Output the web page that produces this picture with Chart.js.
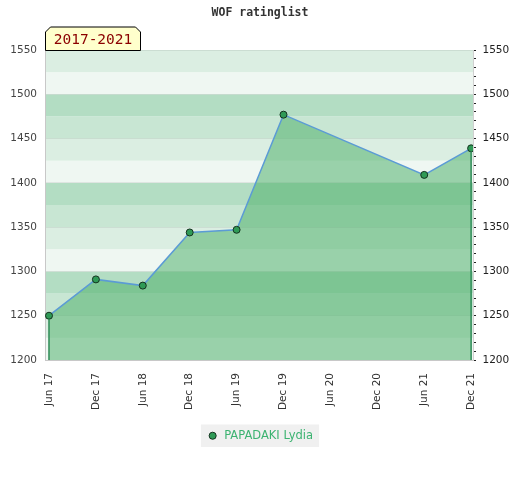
<!DOCTYPE html>
<html>
<head>
<meta charset="utf-8">
<script src="https://cdn.jsdelivr.net/npm/chart.js@4/dist/chart.umd.min.js"></script>
<style>
  html, body { margin: 0; padding: 0; background: #fff; }
  #wrap { width: 520px; height: 480px; }
</style>
</head>
<body>
<div id="wrap"><canvas id="ratingChart" width="520" height="480"></canvas></div>
<script>
const periods = ['Jun 17', 'Dec 17', 'Jun 18', 'Dec 18', 'Jun 19', 'Dec 19', 'Jun 20', 'Dec 20', 'Jun 21', 'Dec 21'];
const ratings = [1250, 1291, 1284, 1344, 1347, 1477, null, null, 1409, 1439];
const playerName = 'PAPADAKI Lydia';
const chartTitle = 'WOF ratinglist';
const rangeLabel = '2017-2021';
const yMin = 1200;
const yMax = 1550;

// background stripes, one shade per 25 points inside each 100 block
const stripeShades = { 0: '#eff7f2', 25: '#dbeee2', 50: '#c8e6d3', 75: '#b3ddc3' };

const backdrop = {
  id: 'backdrop',
  beforeDraw(chart) {
    const { ctx, chartArea: a, scales } = chart;
    const y = scales.y;
    ctx.save();
    for (let v = yMin; v < yMax; v += 25) {
      const top = y.getPixelForValue(v + 25);
      const bottom = y.getPixelForValue(v);
      ctx.fillStyle = stripeShades[((v % 100) + 100) % 100];
      ctx.fillRect(a.left, top, a.right - a.left, bottom - top);
    }
    // legend background
    const box = chart.legend && chart.legend.legendHitBoxes && chart.legend.legendHitBoxes[0];
    if (box) {
      ctx.fillStyle = '#f0f0f0';
      ctx.fillRect(box.left - 6, box.top - 5.5, box.width + 12, box.height + 11);
    }
    ctx.restore();
  },
  afterDatasetsDraw(chart) {
    const { ctx, chartArea: a } = chart;
    const pts = chart.getDatasetMeta(0).data;
    if (!pts.length) return;
    ctx.save();
    ctx.strokeStyle = '#2e8b57';
    ctx.lineWidth = 1.5;
    [pts[0], pts[pts.length - 1]].forEach(p => {
      ctx.beginPath();
      ctx.moveTo(p.x, p.y + 3);
      ctx.lineTo(p.x, a.bottom);
      ctx.stroke();
    });
    ctx.restore();
  },
  afterDraw(chart) {
    const { ctx, chartArea: a } = chart;
    const l = a.left + 0.5, r = a.left + 95.5, t = a.top - 23, b = a.top + 0.5, c = 5;
    ctx.save();
    ctx.beginPath();
    ctx.moveTo(l, b);
    ctx.lineTo(l, t + c);
    ctx.lineTo(l + c, t);
    ctx.lineTo(r - c, t);
    ctx.lineTo(r, t + c);
    ctx.lineTo(r, b);
    ctx.closePath();
    ctx.fillStyle = '#ffffcc';
    ctx.fill();
    ctx.strokeStyle = '#000';
    ctx.lineWidth = 1;
    ctx.stroke();
    ctx.fillStyle = '#8b0000';
    ctx.font = '14.5px "DejaVu Sans Mono", monospace';
    ctx.textAlign = 'center';
    ctx.textBaseline = 'middle';
    ctx.fillText(rangeLabel, (l + r) / 2, (t + b) / 2 + 1);
    ctx.restore();
  }
};

const points = periods
  .map((p, i) => ({ x: i, y: ratings[i] }))
  .filter(d => d.y !== null);

new Chart(document.getElementById('ratingChart'), {
  type: 'line',
  data: {
    datasets: [{
      label: playerName,
      data: points,
      borderColor: '#5b9bd5',
      borderWidth: 1.5,
      backgroundColor: 'rgba(74, 174, 104, 0.52)',
      fill: 'start',
      tension: 0,
      pointRadius: 3.5,
      pointBackgroundColor: '#2f9a56',
      pointBorderColor: '#14331f',
      pointBorderWidth: 1
    }]
  },
  options: {
    responsive: false,
    animation: false,
    devicePixelRatio: 1,
    layout: { padding: { left: 0, right: 0, top: 0, bottom: 28.5 } },
    plugins: {
      title: {
        display: true,
        text: chartTitle,
        color: '#333',
        font: { family: '"DejaVu Sans Mono", monospace', size: 11.5, weight: 'bold' },
        padding: { top: 6, bottom: 30.2 }
      },
      legend: {
        position: 'bottom',
        labels: {
          usePointStyle: true,
          boxWidth: 12,
          boxHeight: 5,
          padding: 10,
          color: '#3cb371',
          font: { family: '"DejaVu Sans", sans-serif', size: 11.5 }
        }
      },
      tooltip: { enabled: false }
    },
    scales: {
      x: {
        type: 'linear',
        min: -0.085,
        max: 9.04,
        afterBuildTicks: s => { s.ticks = periods.map((p, i) => ({ value: i })); },
        afterFit: s => { s.height = 60; },
        grid: { display: false, drawTicks: false },
        border: { display: true, color: '#c8c8c8' },
        ticks: {
          autoSkip: false,
          minRotation: 90,
          maxRotation: 90,
          padding: 13,
          color: '#333',
          font: { family: '"DejaVu Sans", sans-serif', size: 10.5 },
          callback: v => periods[v]
        }
      },
      y: {
        position: 'left',
        min: yMin,
        max: yMax,
        afterFit: s => { s.width = 45; },
        grid: { color: 'rgba(0, 0, 0, 0.07)', drawTicks: false },
        border: { display: true, color: '#c8c8c8' },
        ticks: {
          stepSize: 50,
          padding: 8,
          color: '#444',
          font: { family: '"DejaVu Sans", sans-serif', size: 10.5 },
          callback: v => String(v)
        }
      },
      y2: {
        position: 'right',
        min: yMin,
        max: yMax,
        afterFit: s => { s.width = 47; },
        grid: { drawOnChartArea: false, drawTicks: true, tickLength: 3, color: '#222' },
        border: { display: true, color: '#d0d0d0' },
        ticks: {
          stepSize: 10,
          maxTicksLimit: 100,
          autoSkip: false,
          padding: 6.5,
          color: '#222',
          font: { family: '"DejaVu Sans", sans-serif', size: 10.5 },
          callback: v => (v % 50 === 0 ? String(v) : '')
        }
      }
    }
  },
  plugins: [backdrop]
});
</script>
</body>
</html>
